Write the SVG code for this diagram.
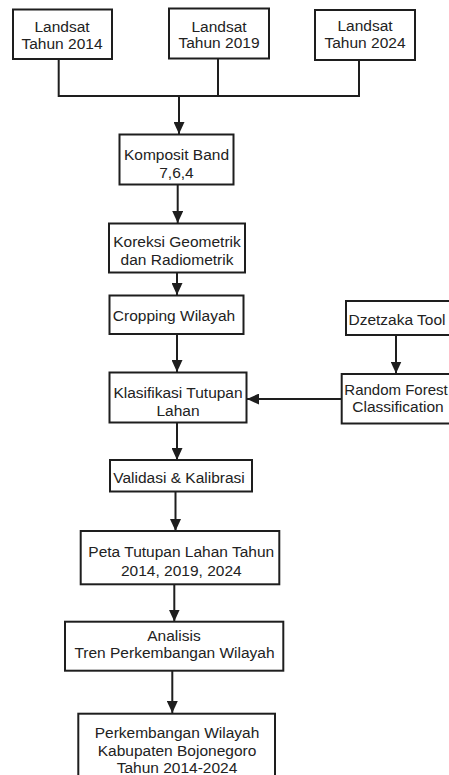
<svg xmlns="http://www.w3.org/2000/svg" width="449" height="775" viewBox="0 0 449 775">
<style>
.box{fill:#fff;stroke:#1e1e1e;stroke-width:2}
.t{font-family:"Liberation Sans",Arial,sans-serif;font-size:15.5px;fill:#222;text-anchor:middle}
.c{fill:none;stroke:#1e1e1e;stroke-width:2}
</style>
<defs>
<marker id="ah" markerUnits="userSpaceOnUse" markerWidth="12" markerHeight="11" refX="12" refY="5.5" orient="auto">
<path d="M0,0 L12,5.5 L0,11 z" fill="#1e1e1e"/>
</marker>
</defs>
<rect width="449" height="775" fill="#fff"/>
<g id="connectors">
<path class="c" d="M58.7,59 V96 M218,58 V96 M359,60 V96 M57.7,96 H360"/>
<path class="c" d="M179,96 V134" marker-end="url(#ah)"/>
<path class="c" d="M177.7,184 V223" marker-end="url(#ah)"/>
<path class="c" d="M177,272 V295" marker-end="url(#ah)"/>
<path class="c" d="M177,334 V372" marker-end="url(#ah)"/>
<path class="c" d="M396,335 V373.5" marker-end="url(#ah)"/>
<path class="c" d="M341.7,399 H247" marker-end="url(#ah)"/>
<path class="c" d="M177,423 V460" marker-end="url(#ah)"/>
<path class="c" d="M175.5,492 V531" marker-end="url(#ah)"/>
<path class="c" d="M174.3,584 V621.5" marker-end="url(#ah)"/>
<path class="c" d="M172.3,671 V713" marker-end="url(#ah)"/>
</g>
<g id="landsat2014"><rect class="box" x="13" y="9.5" width="99" height="49.5"/><text class="t" x="62" y="31.5">Landsat</text><text class="t" x="62" y="48.8">Tahun 2014</text></g>
<g id="landsat2019"><rect class="box" x="169" y="8.5" width="100" height="50"/><text class="t" x="219" y="31.5">Landsat</text><text class="t" x="219" y="48.2">Tahun 2019</text></g>
<g id="landsat2024"><rect class="box" x="315" y="10" width="100" height="50"/><text class="t" x="365" y="30.5">Landsat</text><text class="t" x="365" y="47.5">Tahun 2024</text></g>
<g id="komposit"><rect class="box" x="119.5" y="134.5" width="114" height="50"/><text class="t" x="176.5" y="159.5">Komposit Band</text><text class="t" x="176.5" y="178">7,6,4</text></g>
<g id="koreksi"><rect class="box" x="109" y="223.5" width="136" height="49"/><text class="t" x="177" y="247.2">Koreksi Geometrik</text><text class="t" x="177" y="264.5">dan Radiometrik</text></g>
<g id="cropping"><rect class="box" x="109.5" y="295.5" width="134" height="38.5"/><text class="t" x="174" y="320.5">Cropping Wilayah</text></g>
<g id="klasifikasi"><rect class="box" x="109.5" y="372.5" width="137" height="50"/><text class="t" x="178" y="397.8">Klasifikasi Tutupan</text><text class="t" x="178" y="416.2">Lahan</text></g>
<g id="dzetzaka"><rect class="box" x="346" y="301" width="115" height="34"/><text class="t" x="397" y="324.5">Dzetzaka Tool</text></g>
<g id="randomforest"><rect class="box" x="341.7" y="374" width="125" height="49.5"/><text class="t" x="396" y="394.8" style="font-size:15px">Random Forest</text><text class="t" x="398" y="412.2">Classification</text></g>
<g id="validasi"><rect class="box" x="110" y="460" width="142" height="31.5"/><text class="t" x="179" y="483.2">Validasi &amp; Kalibrasi</text></g>
<g id="peta"><rect class="box" x="80.7" y="531" width="198.6" height="53.3"/><text class="t" x="181.3" y="557.2">Peta Tutupan Lahan Tahun</text><text class="t" x="181.3" y="575.5">2014, 2019, 2024</text></g>
<g id="analisis"><rect class="box" x="65" y="621.7" width="218.3" height="49"/><text class="t" x="174" y="640.5">Analisis</text><text class="t" x="174.5" y="658.2">Tren Perkembangan Wilayah</text></g>
<g id="hasil"><rect class="box" x="78.3" y="713.7" width="196.7" height="75"/><text class="t" x="177" y="737.8">Perkembangan Wilayah</text><text class="t" x="177" y="756.2">Kabupaten Bojonegoro</text><text class="t" x="177" y="773.2">Tahun 2014-2024</text></g>
</svg>
